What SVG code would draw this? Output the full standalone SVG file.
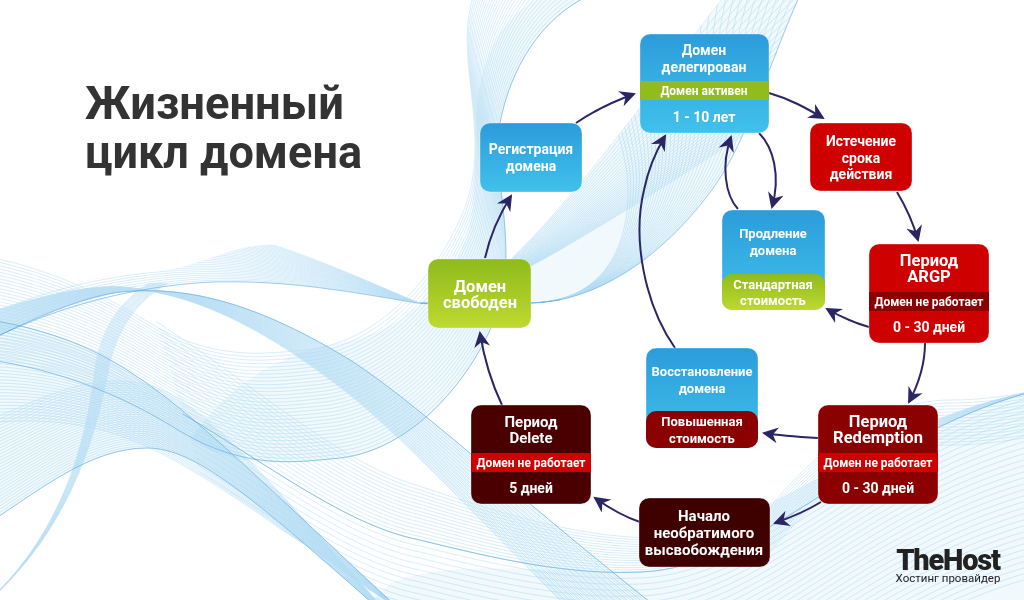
<svg xmlns="http://www.w3.org/2000/svg" width="1024" height="600" viewBox="0 0 1024 600">
<style>
.bgl{fill:none;stroke:#74bfe9;stroke-width:.55;opacity:.5}
.wash{fill:#8fd0f0;opacity:.13;stroke:none}
.edge{fill:none;stroke:#4d9fdc;stroke-width:.9;opacity:.55}
.box{stroke:#fff;stroke-opacity:.35;stroke-width:1}
text{font-family:Roboto,"Noto Sans",sans-serif;font-weight:700;fill:#fff;text-anchor:middle}
.t13{font-size:14px}.t12{font-size:13px}.t15{font-size:16.5px}.t11{font-size:12px}.t14{font-size:15px}
.ttl{font-weight:700;font-size:46px;fill:#333;text-anchor:start}
.cn{fill:none;stroke:#2a2565;stroke-width:2;marker-end:url(#ah)}
</style>
<defs>
<marker id="ah" markerUnits="userSpaceOnUse" markerWidth="18" markerHeight="16" refX="14" refY="8" orient="auto" viewBox="0 0 18 16"><path d="M16,8 L0,0 L5,8 L0,16 Z" fill="#2a2565"/></marker>
<linearGradient id="gb" x1="0" y1="0" x2="0" y2="1"><stop offset="0" stop-color="#2c9cdb"/><stop offset="1" stop-color="#40c1eb"/></linearGradient>
<linearGradient id="gg" x1="0" y1="0" x2="0" y2="1"><stop offset="0" stop-color="#8fbb1c"/><stop offset="1" stop-color="#bed92f"/></linearGradient>
<clipPath id="cd"><path d="M-10,312 C60,285 100,275 150,272 C200,268 230,245 267,245 C330,243 380,255 420,303 C350,292 290,280 213,282 C150,285 70,300 -10,340 Z"/></clipPath>
<clipPath id="ce"><path d="M725,-5 C680,50 600,170 517,253 C490,280 455,300 420,303 C450,305 490,305 533,303 C620,300 690,225 722,175 C750,130 775,50 800,-5 Z"/></clipPath>
<clipPath id="ci"><path d="M150,300 L1030,300 L1030,600 L375,600 L267,520 L200,473 Z"/></clipPath>

<path id="a0" d="M-10,320 C40,328 90,345 130,372 C190,410 260,480 400,610"/>
<g id="a1"><use href="#a0"/><use href="#a0" transform="matrix(1,-.00806,0,1,0,3.226)"/></g>
<g id="a2"><use href="#a1"/><use href="#a1" transform="matrix(1,-.01613,0,1,0,6.45)"/></g>
<g id="a3"><use href="#a2"/><use href="#a2" transform="matrix(1,-.03226,0,1,0,12.9)"/></g>
<g id="a4"><use href="#a3"/><use href="#a3" transform="matrix(1,-.0645,0,1,0,25.8)"/></g>
<g id="a5"><use href="#a4"/><use href="#a4" transform="matrix(1,-.129,0,1,0,51.6)"/></g>

<path id="b0" d="M-10,522 C40,490 90,448 147,448 C195,448 250,495 380,610"/>
<g id="b1"><use href="#b0"/><use href="#b0" transform="matrix(1,.00806,0,1,0,-3.226)"/></g>
<g id="b2"><use href="#b1"/><use href="#b1" transform="matrix(1,.01613,0,1,0,-6.45)"/></g>
<g id="b3"><use href="#b2"/><use href="#b2" transform="matrix(1,.03226,0,1,0,-12.9)"/></g>
<g id="b4"><use href="#b3"/><use href="#b3" transform="matrix(1,.0645,0,1,0,-25.8)"/></g>
<g id="b5"><use href="#b4"/><use href="#b4" transform="matrix(1,.129,0,1,0,-51.6)"/></g>

<path id="c0" d="M-10,340 C50,310 90,296 120,292 C190,285 260,305 350,360 C420,405 520,500 660,610"/>
<g id="c1"><use href="#c0"/><use href="#c0" transform="matrix(1,.00553,0,1,0,-.83)"/></g>
<g id="c2"><use href="#c1"/><use href="#c1" transform="matrix(1,.01106,0,1,0,-1.66)"/></g>
<g id="c3"><use href="#c2"/><use href="#c2" transform="matrix(1,.0221,0,1,0,-3.32)"/></g>
<g id="c4"><use href="#c3"/><use href="#c3" transform="matrix(1,.0442,0,1,0,-6.64)"/></g>
<g id="c5"><use href="#c4"/><use href="#c4" transform="matrix(1,.0885,0,1,0,-13.3)"/></g>
<g id="c6"><use href="#c0"/><use href="#c0" transform="matrix(1,.0115,0,1,0,-1.7)"/></g>
<g id="c7"><use href="#c6"/><use href="#c6" transform="matrix(1,.023,0,1,0,-3.4)"/></g>
<g id="c8"><use href="#c7"/><use href="#c7" transform="matrix(1,.046,0,1,0,-6.8)"/></g>
<g id="c9"><use href="#c8"/><use href="#c8" transform="matrix(1,.092,0,1,0,-13.6)"/></g>

<path id="d0" d="M560,300 C500,308 450,306 417,303 C350,292 290,280 213,282 C150,285 70,300 -10,340"/>
<g id="d1"><use href="#d0"/><use href="#d0" transform="matrix(1,.00843,0,1,0,-3.54)"/></g>
<g id="d2"><use href="#d1"/><use href="#d1" transform="matrix(1,.01686,0,1,0,-7.08)"/></g>
<g id="d3"><use href="#d2"/><use href="#d2" transform="matrix(1,.0337,0,1,0,-14.2)"/></g>
<g id="d4"><use href="#d3"/><use href="#d3" transform="matrix(1,.0674,0,1,0,-28.3)"/></g>
<g id="d5"><use href="#d4"/><use href="#d4" transform="matrix(1,.135,0,1,0,-56.6)"/></g>

<path id="e0" d="M725,-5 C680,50 600,170 517,253 C490,280 455,300 420,303"/>
<g id="e1"><use href="#e0"/><use href="#e0" transform="matrix(1,0,-.0238,1,7.22,0)"/></g>
<g id="e2"><use href="#e1"/><use href="#e1" transform="matrix(1,0,-.0476,1,14.44,0)"/></g>
<g id="e3"><use href="#e2"/><use href="#e2" transform="matrix(1,0,-.0952,1,28.9,0)"/></g>
<g id="e4"><use href="#e3"/><use href="#e3" transform="matrix(1,0,-.19,1,57.8,0)"/></g>
<g id="e5"><use href="#e4"/><use href="#e4" transform="matrix(1,0,-.381,1,115.5,0)"/></g>

<path id="f0" d="M800,-5 C775,50 750,130 722,175 C690,225 620,300 533,303 C490,305 450,305 420,303"/>
<g id="f1"><use href="#f0"/><use href="#f0" transform="matrix(1,0,.0238,1,-7.22,0)"/></g>
<g id="f2"><use href="#f1"/><use href="#f1" transform="matrix(1,0,.0476,1,-14.44,0)"/></g>
<g id="f3"><use href="#f2"/><use href="#f2" transform="matrix(1,0,.0952,1,-28.9,0)"/></g>
<g id="f4"><use href="#f3"/><use href="#f3" transform="matrix(1,0,.19,1,-57.8,0)"/></g>
<g id="f5"><use href="#f4"/><use href="#f4" transform="matrix(1,0,.381,1,-115.5,0)"/></g>

<path id="g0" d="M590,-5 C540,18 510,70 500,123 C490,180 525,260 490,330 C465,385 410,450 340,458 C290,463 240,470 170,425 C120,395 60,370 -10,360"/>
<g id="g1"><use href="#g0"/><use href="#g0" transform="translate(-1,-3.5)"/></g>
<g id="g2"><use href="#g1"/><use href="#g1" transform="translate(-2,-7)"/></g>
<g id="g3"><use href="#g2"/><use href="#g2" transform="translate(-4,-14)"/></g>
<g id="g4"><use href="#g3"/><use href="#g3" transform="translate(-8,-28)"/></g>
<g id="g5"><use href="#g4"/><use href="#g4" transform="translate(-16,-56)"/></g>

<path id="h0" d="M150,283 C120,300 100,330 95,370 C85,450 60,530 -5,595"/>
<g id="h1"><use href="#h0"/><use href="#h0" transform="matrix(1,0,-.0039,1,2.34,0)"/></g>
<g id="h2"><use href="#h1"/><use href="#h1" transform="matrix(1,0,-.0078,1,4.68,0)"/></g>
<g id="h3"><use href="#h2"/><use href="#h2" transform="matrix(1,0,-.0156,1,9.36,0)"/></g>
<g id="h4"><use href="#h3"/><use href="#h3" transform="matrix(1,0,-.0312,1,18.7,0)"/></g>

<path id="i0" d="M150,395 C250,450 340,525 420,540 C500,560 570,575 640,572 C760,568 860,440 1030,392"/>
<g id="i1"><use href="#i0"/><use href="#i0" transform="translate(0,6)"/></g>
<g id="i2"><use href="#i1"/><use href="#i1" transform="translate(0,12)"/></g>
<g id="i3"><use href="#i2"/><use href="#i2" transform="translate(0,24)"/></g>
<g id="i4"><use href="#i3"/><use href="#i3" transform="translate(0,48)"/></g>
<g id="i5"><use href="#i4"/><use href="#i4" transform="translate(0,96)"/></g>
<g id="j1"><use href="#i0"/><use href="#i0" transform="matrix(1,.00586,0,1,0,-6.04)"/></g>
<g id="j2"><use href="#j1"/><use href="#j1" transform="matrix(1,.01172,0,1,0,-12.08)"/></g>
<g id="j3"><use href="#j2"/><use href="#j2" transform="matrix(1,.0234,0,1,0,-24.2)"/></g>
<g id="j4"><use href="#j3"/><use href="#j3" transform="matrix(1,.0469,0,1,0,-48.3)"/></g>

<path id="k0" d="M760,520 C820,440 890,400 950,400 C985,400 1010,395 1030,392"/>
<g id="k1"><use href="#k0"/><use href="#k0" transform="translate(0,3)"/></g>
<g id="k2"><use href="#k1"/><use href="#k1" transform="translate(0,6)"/></g>
<g id="k3"><use href="#k2"/><use href="#k2" transform="translate(0,12)"/></g>
<g id="k4"><use href="#k3"/><use href="#k3" transform="translate(0,24)"/></g>
</defs>

<rect width="1024" height="600" fill="#fff"/>

<g id="waves">
<path class="wash" d="M-10,320 C40,328 90,345 130,372 C190,410 260,480 400,610 L380,610 C250,495 195,448 147,448 C90,448 40,490 -10,522 Z"/>
<path class="wash" d="M725,-5 C680,50 600,170 517,253 C490,280 455,300 420,303 C450,305 490,305 533,303 C620,300 690,225 722,175 C750,130 775,50 800,-5 Z"/>
<path class="wash" d="M545,-5 C500,15 480,60 477,110 C473,180 480,230 450,270 C425,305 390,335 340,343 C290,350 230,380 190,440 C240,470 290,463 340,458 C410,450 465,385 490,330 C525,260 490,180 500,123 C510,70 540,18 590,-5 Z"/>
<path class="wash" d="M375,600 C400,550 570,575 640,572 C760,568 860,440 1030,392 L1030,600 Z"/>
<g class="bgl">
<use href="#a5"/><use href="#b5"/><use href="#c5"/><use href="#c9"/>
<g clip-path="url(#cd)"><use href="#d5"/></g>
<g clip-path="url(#ce)"><use href="#e5"/><use href="#f5"/></g>
<use href="#g5"/><use href="#h4"/>
<g clip-path="url(#ci)"><use href="#i5"/><use href="#j4"/></g>
<use href="#k4"/>
</g>
<use class="edge" href="#a0"/><use class="edge" href="#b0"/><use class="edge" href="#c0"/><use class="edge" href="#d0"/><use class="edge" href="#f0"/><use class="edge" href="#g0"/>
<g clip-path="url(#ci)"><use class="edge" href="#i0"/></g>
</g>

<g id="title">
<text class="ttl" x="85" y="119" textLength="259" lengthAdjust="spacingAndGlyphs">Жизненный</text>
<text class="ttl" x="85" y="168" textLength="277" lengthAdjust="spacingAndGlyphs">цикл домена</text>
</g>

<g id="connectors">
<path class="cn" d="M576,123 C595,110 612,102 634,94"/>
<path class="cn" d="M769,93 C790,99 806,108 823,118"/>
<path class="cn" d="M897,192 C906,207 913,222 918,240"/>
<path class="cn" d="M759,133 C773,147 781,175 772,207"/>
<path class="cn" d="M738,209 C725,195 721,165 731,137"/>
<path class="cn" d="M869,327 C855,323 841,317 827,309"/>
<path class="cn" d="M925,343 C925,365 918,385 909,402"/>
<path class="cn" d="M818,438 C800,437 782,436 764,433"/>
<path class="cn" d="M821,502 C808,510 792,517 775,523"/>
<path class="cn" d="M640,522 C625,517 609,508 595,498"/>
<path class="cn" d="M502,405 C491,382 484,358 480,333"/>
<path class="cn" d="M485,258 C490,236 499,215 511,196"/>
<path class="cn" d="M675,348 C645,305 632,240 644,190 C648,170 655,153 665,136"/>
</g>

<g id="n-delegated">
<rect class="box" x="640" y="34" width="129" height="99" rx="10" fill="url(#gb)"/>
<rect x="640" y="81" width="129" height="19" fill="#90bc1c"/>
<text class="t13" x="704" y="55">Домен</text>
<text class="t13" x="704" y="72">делегирован</text>
<text class="t11" x="704" y="95">Домен активен</text>
<text class="t13" x="704" y="122">1 - 10 лет</text>
</g>
<g id="n-expire">
<rect class="box" x="810" y="123" width="102" height="68" rx="10" fill="#cf0000"/>
<text class="t13" x="861" y="146">Истечение</text>
<text class="t13" x="861" y="163">срока</text>
<text class="t13" x="861" y="179">действия</text>
</g>
<g id="n-argp">
<rect class="box" x="869" y="244" width="120" height="99" rx="10" fill="#cf0000"/>
<rect x="869" y="292" width="120" height="19" fill="#8b0000"/>
<text class="t15" x="929" y="266">Период</text>
<text class="t15" x="929" y="282">ARGP</text>
<text class="t11" x="929" y="306">Домен не работает</text>
<text class="t13" x="929" y="332">0 - 30 дней</text>
</g>
<g id="n-renew">
<rect class="box" x="722" y="210" width="103" height="100" rx="10" fill="url(#gb)"/>
<rect x="722" y="274" width="103" height="36" rx="10" fill="url(#gg)"/>
<text class="t12" x="773" y="238">Продление</text>
<text class="t12" x="773" y="255">домена</text>
<text class="t12" x="773" y="289">Стандартная</text>
<text class="t12" x="773" y="305">стоимость</text>
</g>
<g id="n-register">
<rect class="box" x="480" y="123" width="102" height="69" rx="10" fill="url(#gb)"/>
<text class="t13" x="531" y="154">Регистрация</text>
<text class="t13" x="531" y="171">домена</text>
</g>
<g id="n-free">
<rect class="box" x="428" y="259" width="103" height="69" rx="10" fill="url(#gg)"/>
<text class="t15" x="480" y="292">Домен</text>
<text class="t15" x="480" y="308">свободен</text>
</g>
<g id="n-restore">
<rect class="box" x="646" y="348" width="112" height="100" rx="10" fill="url(#gb)"/>
<rect x="646" y="411" width="112" height="37" rx="10" fill="#8b0000"/>
<text class="t12" x="702" y="376">Восстановление</text>
<text class="t12" x="702" y="393">домена</text>
<text class="t12" x="702" y="426">Повышенная</text>
<text class="t12" x="702" y="443">стоимость</text>
</g>
<g id="n-redemption">
<rect class="box" x="818" y="405" width="120" height="99" rx="10" fill="#8b0000"/>
<rect x="818" y="453" width="120" height="19" fill="#cf0000"/>
<text class="t15" x="878" y="427">Период</text>
<text class="t15" x="878" y="443">Redemption</text>
<text class="t11" x="878" y="467">Домен не работает</text>
<text class="t13" x="878" y="493">0 - 30 дней</text>
</g>
<g id="n-delete">
<rect class="box" x="471" y="405" width="120" height="99" rx="10" fill="#4a0000"/>
<rect x="471" y="453" width="120" height="19" fill="#cf0000"/>
<text class="t14" x="531" y="427">Период</text>
<text class="t14" x="531" y="443">Delete</text>
<text class="t11" x="531" y="467">Домен не работает</text>
<text class="t13" x="531" y="493">5 дней</text>
</g>
<g id="n-release">
<rect class="box" x="639" y="498" width="131" height="69" rx="10" fill="#3f0000"/>
<text class="t14" x="704" y="521">Начало</text>
<text class="t14" x="704" y="538">необратимого</text>
<text class="t14" x="704" y="555">высвобождения</text>
</g>
<g id="logo">
<text x="948" y="570" style="font-weight:900;font-size:29px;fill:#222;letter-spacing:-1.2px">TheHost</text>
<text x="948" y="582" style="font-weight:400;font-size:11.5px;fill:#222">Хостинг провайдер</text>
</g>
</svg>
